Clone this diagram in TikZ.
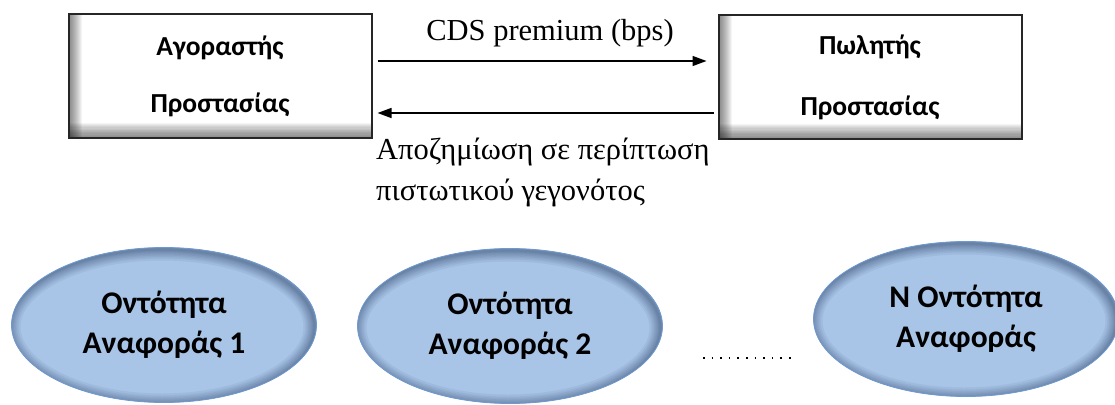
\documentclass[tikz,border=0pt]{standalone}
\usepackage{fontspec}
\setmainfont{Liberation Serif}
\newfontfamily\labelfont{Carlito}
\usetikzlibrary{arrows.meta,shapes.geometric}
\definecolor{ellin}{HTML}{A8C4E7}
\definecolor{ellout}{HTML}{3F5478}
\definecolor{ellline}{HTML}{6E9AD2}
\begin{document}
\begin{tikzpicture}[x=1pt,y=-1pt,
  party/.style={draw=black!85, line width=2pt, fill=white,
    minimum width=303pt, minimum height=123pt, inner sep=0pt,
    font=\labelfont\bfseries\fontsize{27.5}{30}\selectfont, align=center,
    path picture={
      \foreach \i in {0,...,11}{
        \fill[black, opacity=0.045]
          (path picture bounding box.south west) rectangle
          ([xshift=13pt-\i pt]path picture bounding box.north west);
        \fill[black, opacity=0.045]
          (path picture bounding box.south west) rectangle
          ([yshift=15pt-1.2*\i pt]path picture bounding box.south east);
      }
    }},
  entity/.style={ellipse, draw=ellline, line width=0.8pt, fill=ellin,
    minimum width=305pt, minimum height=155pt, inner sep=0pt,
    font=\labelfont\bfseries\fontsize{31.5}{40}\selectfont, align=center,
    path picture={
      \foreach \w in {22,18,15,12,9.5,7,5,3.5,2}{
        \draw[ellout, opacity=0.085, line width=\w pt]
          ([xshift=-2pt,yshift=-2pt]path picture bounding box.center)
          ellipse [x radius=152.5pt, y radius=77.5pt];
      }
    }},
  flow/.style={line width=1.4pt, -{Triangle[length=14pt,width=10pt]}},
  plain/.style={inner sep=0pt, font=\fontsize{30.5}{34}\selectfont}
]
\useasboundingbox (0,0) rectangle (1115,404);

% the two counterparties
\node[party] (buyer) at (220,76) {Αγοραστής\\[27pt]Προστασίας};
\node[party] (seller) at (870,77) {Πωλητής\\[31pt]Προστασίας};

% payment flows between them
\draw[flow] ([xshift=5pt,yshift=15pt]buyer.east) -- ([xshift=-11pt,yshift=16pt]seller.west);
\draw[flow] ([xshift=-4pt,yshift=-36pt]seller.west) -- ([xshift=5pt,yshift=-37pt]buyer.east);

\node[plain] (premium) at (550,33) {CDS premium (bps)};
\node[plain, anchor=west] (comp1) at (376,152) {Αποζημίωση σε περίπτωση};
\node[plain, anchor=west] (comp2) at (376,193) {πιστωτικού γεγονότος};

% reference entities
\node[entity] (ent1) at (164,325) {Οντότητα\\Αναφοράς 1};
\node[entity] (ent2) at (510,326) {Οντότητα\\Αναφοράς 2};
\node[entity] (entN) at (966,319) {Ν Οντότητα\\Αναφοράς};

\coordinate (dotsA) at (703,358);
\coordinate (dotsB) at (796,358);
\draw[line width=1.4pt, dash pattern=on 1.6pt off 7pt] (dotsA) -- (dotsB);
\end{tikzpicture}
\end{document}
